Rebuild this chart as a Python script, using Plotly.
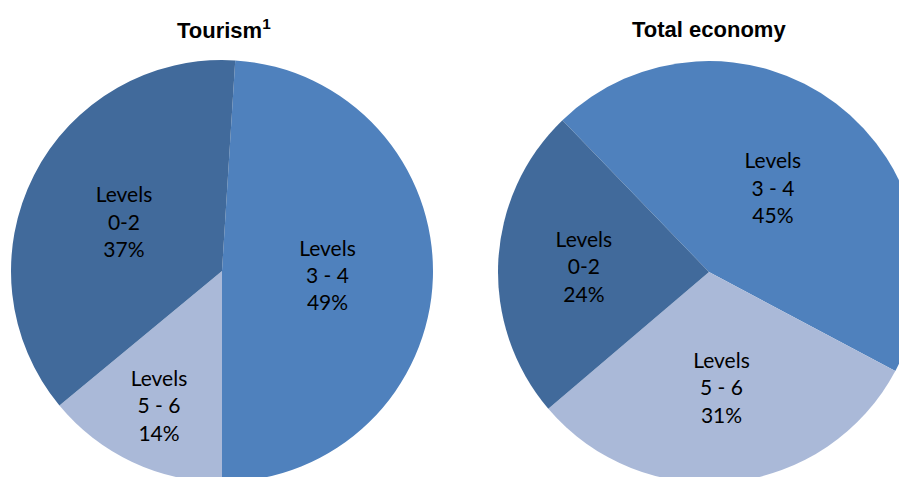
import plotly.graph_objects as go

levels = ["Levels<br>3 - 4", "Levels<br>5 - 6", "Levels<br>0-2"]
tourism = [49, 14, 37]
total_economy = [45, 31, 24]
titles = ["<b>Tourism<sup>1</sup></b>", "<b>Total economy</b>"]
colors = ["#4F81BD", "#AAB9D8", "#416A9B"]

# figure is larger than the window; page body margin offsets it by 8px
W, H = 930, 500
OFF = 8

def dom(cx, cy, r):
    cx -= OFF
    cy -= OFF
    return dict(x=[(cx - r) / W, (cx + r) / W], y=[(H - cy - r) / H, (H - cy + r) / H])

def px(x, y):
    return (x - OFF) / W, 1 - (y - OFF) / H

label_font = dict(family="Lato, Carlito, sans-serif", size=21, color="#000000")

fig = go.Figure()
fig.add_trace(go.Pie(
    labels=levels, values=tourism, sort=False, direction="clockwise", rotation=3.6,
    marker=dict(colors=colors, line=dict(width=0)),
    texttemplate="%{label}<br>%{value}%", textposition="inside",
    insidetextorientation="horizontal", textfont=label_font,
    domain=dom(222, 271, 211), showlegend=False, hoverinfo="skip",
))
fig.add_trace(go.Pie(
    labels=levels, values=total_economy, sort=False, direction="clockwise", rotation=-44,
    marker=dict(colors=colors, line=dict(width=0)),
    texttemplate="%{label}<br>%{value}%", textposition="inside",
    insidetextorientation="horizontal", textfont=label_font,
    domain=dom(709, 272, 211), showlegend=False, hoverinfo="skip",
))

title_font = dict(family="Liberation Sans, Arial, sans-serif", size=22, color="#000000")
x0, y0 = px(224, 29)
fig.add_annotation(text=titles[0], x=x0, y=y0, xref="paper", yref="paper",
                   showarrow=False, font=title_font, xanchor="center", yanchor="middle")
x1, y1 = px(709, 29)
fig.add_annotation(text=titles[1], x=x1, y=y1, xref="paper", yref="paper",
                   showarrow=False, font=title_font, xanchor="center", yanchor="middle")

fig.update_layout(
    width=W, height=H, margin=dict(l=0, r=0, t=0, b=0),
    paper_bgcolor="#FFFFFF", plot_bgcolor="#FFFFFF",
)
fig.write_html("out.html")
